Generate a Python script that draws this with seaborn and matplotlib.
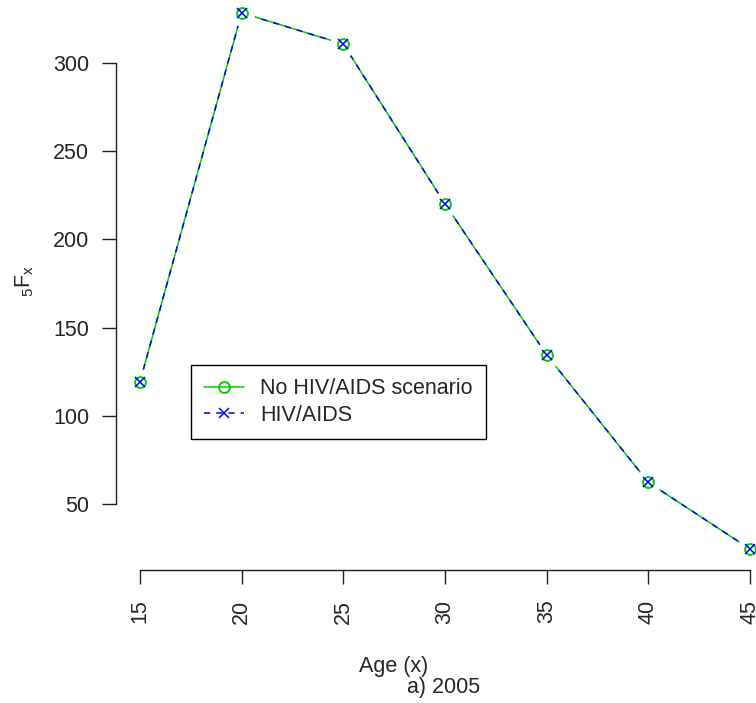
import matplotlib
matplotlib.use("Agg")
import matplotlib.pyplot as plt
from matplotlib.lines import Line2D
import seaborn as sns

# Age groups and fertility values (5Fx) for the two scenarios
age = [15, 20, 25, 30, 35, 40, 45]
no_hiv = [119.3, 328.3, 310.6, 220.1, 134.5, 62.3, 24.5]
hiv = [119.3, 328.3, 310.6, 220.1, 134.5, 62.3, 24.5]
y_ticks = [50, 100, 150, 200, 250, 300]
series_labels = ["No HIV/AIDS scenario", "HIV/AIDS"]

sns.set_style("ticks")
plt.rcParams["font.family"] = ["Liberation Sans", "DejaVu Sans"]
plt.rcParams["mathtext.fontset"] = "custom"
plt.rcParams["mathtext.rm"] = "Liberation Sans"
plt.rcParams["mathtext.it"] = "Liberation Sans"

FS = 15.5
GREEN = "#00CD00"
BLUE = "#0000FF"

fig = plt.figure(figsize=(7.56, 7.03), dpi=100)
ax = fig.add_axes([0.1529, 0.1885, 0.8714, 0.8237])

# connecting lines
sns.lineplot(x=age, y=no_hiv, ax=ax, color=GREEN, lw=1.1, zorder=2)
sns.lineplot(x=age, y=hiv, ax=ax, color=BLUE, lw=1.1, zorder=3,
             dashes=False, linestyle=(0, (4, 4)))

# open gaps in the lines around each point
ax.plot(age, no_hiv, ls="none", marker="o", ms=19, mfc="white",
        mec="none", zorder=4)
# point symbols
ax.plot(age, no_hiv, ls="none", marker="o", ms=7.8, mfc="none",
        mec=GREEN, mew=1.4, zorder=5)
ax.plot(age, hiv, ls="none", marker="x", ms=6.8, mec=BLUE,
        mew=1.1, zorder=6)

ymin, ymax = min(no_hiv), max(no_hiv)
pad = 0.04 * (ymax - ymin)
ax.set_xlim(age[0] - 0.04 * (age[-1] - age[0]), age[-1] + 0.04 * (age[-1] - age[0]))
ax.set_ylim(ymin - pad, ymax + pad)

ax.set_xticks(age)
ax.set_xticklabels([str(a) for a in age], rotation=90, fontsize=FS)
ax.set_yticks(y_ticks)
ax.set_yticklabels([str(v) for v in y_ticks], fontsize=FS)
ax.tick_params(axis="both", length=10, width=1, color="#222222", direction="out")
ax.tick_params(axis="y", pad=9)
ax.tick_params(axis="x", pad=11)

for s in ["top", "right"]:
    ax.spines[s].set_visible(False)
ax.spines["left"].set_bounds(y_ticks[0], y_ticks[-1])
ax.spines["bottom"].set_bounds(age[0], age[-1])
for s in ["left", "bottom"]:
    ax.spines[s].set_linewidth(1)
    ax.spines[s].set_color("#222222")

ax.set_xlabel("")
ax.set_ylabel("")
fig.text(25 / 756, 1 - 281 / 703, r"${}_{5}\mathrm{F}_{\mathrm{x}}$", rotation=90,
         ha="center", va="center", fontsize=FS)
fig.text(394 / 756, 1 - 672 / 703, "Age (x)", ha="center", va="baseline", fontsize=FS)
fig.text(444 / 756, 1 - 693 / 703, "a) 2005", ha="center", va="baseline", fontsize=FS)

handles = [
    Line2D([], [], color=GREEN, lw=1.1, marker="o", ms=7.8, mfc="none",
           mec=GREEN, mew=1.4),
    Line2D([], [], color=BLUE, lw=1.1, ls=(0, (4, 4)), marker="x", ms=6.8,
           mec=BLUE, mew=1.1),
]
leg = ax.legend(handles, series_labels, loc="upper left",
                bbox_to_anchor=(191 / 756, 1 - 365 / 703),
                bbox_transform=fig.transFigure, borderaxespad=0,
                fontsize=FS, frameon=True, fancybox=False, framealpha=1,
                edgecolor="black", handlelength=1.85, handletextpad=0.75,
                borderpad=0.62, labelspacing=0.25, numpoints=1)
leg.get_frame().set_linewidth(1)

fig.savefig("out.png", dpi=100)
